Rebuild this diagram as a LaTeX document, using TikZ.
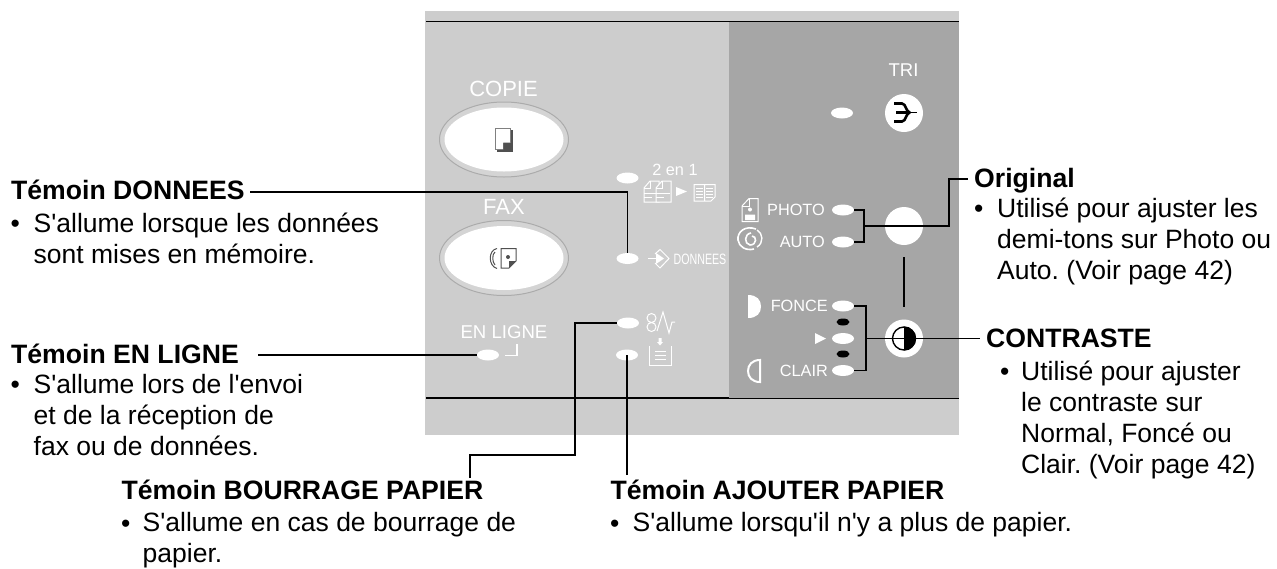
\documentclass[tikz,border=0pt]{standalone}
\usepackage{fontspec}
\setmainfont{Liberation Sans}
\newfontfamily\bodyfamily{Liberation Sans}
\frenchspacing
\usetikzlibrary{shapes.geometric,positioning,calc}
\definecolor{panellight}{HTML}{CDCDCD}
\definecolor{paneldark}{HTML}{A6A6A6}
\definecolor{rimgray}{HTML}{ABABAB}
\definecolor{icongray}{HTML}{505050}

\begin{document}
\begin{tikzpicture}[
  x=1pt, y=-1pt,
  led/.style={ellipse, fill=white, inner sep=0pt, minimum width=22pt, minimum height=11pt},
  ledblack/.style={ellipse, fill=black, inner sep=0pt, minimum width=13pt, minimum height=7pt},
  rimbtn/.style={ellipse, draw=rimgray, line width=1pt, fill=panellight!85!white, inner sep=0pt,
                 minimum width=129pt, minimum height=75pt},
  facebtn/.style={ellipse, fill=white, inner sep=0pt, minimum width=119pt, minimum height=64pt},
  roundbtn/.style={circle, fill=white, inner sep=0pt, minimum size=38pt},
  panellabel/.style={text=white, inner sep=0pt, font=\fontsize{16.3}{18}\selectfont},
  title/.style={anchor=base west, inner sep=0pt, font=\fontsize{26.6}{30}\selectfont\bfseries},
  body/.style={anchor=base west, inner sep=0pt, align=left, font=\bodyfamily\fontsize{26.5}{31}\selectfont},
  link/.style={line width=1.7pt, line cap=butt},
  icon/.style={draw=white, line width=1pt},
]
\useasboundingbox (0,0) rectangle (1277,568);

%% ── Panel ────────────────────────────────────────────────────────────────────
\fill[panellight] (425,11) rectangle (959,435);
\fill[paneldark] (729,22) rectangle (959,398);
\draw[line width=1.7pt] (426,21.5) -- (729,21.5);
\draw[line width=1pt] (729,21) -- (959,21);
\draw[line width=1.7pt] (426,398) -- (729,398);
\draw[line width=0.7pt] (729,398) -- (959,398);

%% ── Left buttons ─────────────────────────────────────────────────────────────
\node[rimbtn] (rimCopie) at (504,139.5) {};
\node[facebtn] (btnCopie) at (504,139.5) {};
\node[rimbtn] (rimFax) at (504,258) {};
\node[facebtn] (btnFax) at (504,258) {};
\node[text=white, inner sep=0pt, font=\fontsize{22}{24}\selectfont] (lblCopie) at (503.5,89) {COPIE};
\node[text=white, inner sep=0pt, font=\fontsize{22}{24}\selectfont] (lblFax) at (504,207) {FAX};
\node[text=white, inner sep=0pt, font=\fontsize{18.6}{20}\selectfont] (lblLigne) at (504,332) {EN LIGNE};

% copy sheet
\fill[icongray] (497,130) rectangle (513,152);
\fill[white] (496,129) -- (510.5,129) -- (510.5,142.5) -- (503,142.5) -- (503,149.5) -- (496,149.5) -- cycle;
\draw[gray, line width=1.3pt] (503,149.5) -- (495.5,149.5) -- (495.5,128.5) -- (510.5,128.5) -- (510.5,142.5);

% fax sheet and handset
\draw[icongray, line width=1pt] (501,248.5) -- (516,248.5) -- (516,261) -- (509,268) -- (501,268) -- cycle;
\fill[icongray] (508,257) circle (2);
\fill[icongray] (509,268) -- (509,261) -- (516,261) -- cycle;
\draw[icongray, line width=1pt] (497,248.5) .. controls (488,250) and (488,266) .. (497,268.5);
\draw[icongray, line width=1pt] (495,252) .. controls (492,254) and (492,262) .. (495,265);

%% ── Centre indicators ────────────────────────────────────────────────────────
\node[led] (ledDeux) at (627.5,178) {};
\node[led] (ledDonnees) at (627.5,258.5) {};
\node[led] (ledBourrage) at (628,323) {};
\node[led] (ledPapier) at (627,355) {};
\node[led] (ledLigne) at (488,355) {};
\node[panellabel] (lblDeux) at (675,170) {2 en 1};
\node[text=white, inner sep=0pt, font=\fontsize{15}{16}\selectfont] (lblDonnees) at (700,259) {\scalebox{0.71}[1]{DONNEES}};

% two sheets, then one booklet
\foreach \dx in {0,12} {
  \draw[icon, fill=panellight] (650+\dx,181) -- (659+\dx,181) -- (659+\dx,202) -- (644+\dx,202) -- (644+\dx,188) -- cycle;
  \draw[icon] (650+\dx,181) -- (650+\dx,188) -- (644+\dx,188);
  \draw[icon] (644+\dx,193) -- (658+\dx,193) (644+\dx,197) -- (652+\dx,197);
}
\fill[white] (676,187) -- (687,191.5) -- (676,196) -- cycle;
\draw[icon] (694,184.5) -- (715,184.5) -- (715,197) -- (711,201) -- (694,201) -- cycle (704.5,184.5) -- (704.5,201);
\foreach \yy in {188,191,194,197} {
  \draw[white, line width=0.8pt] (696,\yy) -- (703,\yy) (706,\yy) -- (713,\yy);
}

% incoming data
\draw[white, line width=1.8pt] (648,258.5) -- (658,258.5);
\fill[white] (656,253) -- (664,258.5) -- (656,264) -- cycle;
\draw[icon] (655,254) -- (660,249.5) -- (669,258.5) -- (660,268) -- (655,263);

% paper jam
\draw[icon] (651.5,318) circle (4.5) (651.5,327) circle (4.5);
\draw[icon] (657,331) -- (663,312) -- (669,333) -- (672,322) -- (675,322);

% paper tray
\draw[icon] (649.5,346) -- (649.5,365.5) -- (671,365.5) -- (671,346);
\foreach \yy in {351,355,359} {
  \draw[white, line width=0.9pt] (655,\yy) -- (666,\yy);
}
\fill[white] (658.5,338) rectangle (661.5,342) (657,342) -- (663,342) -- (660,345.5) -- cycle;

% line corner
\draw[white, line width=1.6pt] (505,355.5) -- (517,355.5) -- (517,344);

%% ── Right indicators ─────────────────────────────────────────────────────────
\node[panellabel, font=\fontsize{18.5}{20}\selectfont] (lblTri) at (903.5,70) {TRI};
\node[led] (ledTri) at (842,113) {};
\node[roundbtn] (btnTri) at (904,113) {};
\draw[line width=2.6pt] (894,103.5) -- (902,103.5) .. controls (906,103.5) and (906,112.5) .. (910,112.5);
\draw[line width=2.6pt] (896,112.5) -- (910,112.5);
\draw[line width=2.6pt] (894,121.5) -- (902,121.5) .. controls (906,121.5) and (906,112.5) .. (910,112.5);
\draw[line width=1.4pt] (909,112.5) -- (917,112.5);

\node[led] (ledPhoto) at (843,210) {};
\node[led] (ledAuto) at (843,242) {};
\node[led] (ledFonce) at (843,306) {};
\node[ledblack] (dotHaut) at (843,322) {};
\node[led] (ledNormal) at (843,338.5) {};
\node[ledblack] (dotBas) at (843,354) {};
\node[led] (ledClair) at (843,370.5) {};
\node[roundbtn] (btnOriginal) at (904,226) {};
\node[roundbtn] (btnContraste) at (904,338.5) {};

\node[panellabel, anchor=east] (lblPhoto) at (825,210) {PHOTO};
\node[panellabel, anchor=east] (lblAuto) at (825,242) {AUTO};
\node[panellabel, anchor=east] (lblFonce) at (828,306) {FONCE};
\node[panellabel, anchor=east] (lblClair) at (828,371) {CLAIR};

% photo sheet
\draw[icon] (749,198.5) -- (758,198.5) -- (758,221.5) -- (742,221.5) -- (742,206) -- cycle;
\draw[icon] (749,198.5) -- (749,206) -- (742,206);
\fill[white] (750,209.5) circle (2) (745,220) -- (745,214.5) -- (755,214.5) -- (755,220) -- cycle;

% auto swirl
\draw[white, line width=1.6pt] (756,229) .. controls (745,225) and (737,232) .. (738,240) .. controls (739,247) and (746,251) .. (754,249);
\draw[white, line width=1.4pt] (757,230) .. controls (763,233) and (764,243) .. (757,247);
\draw[white, line width=1.6pt] (751,233) .. controls (744,234) and (744,244) .. (750,245) .. controls (757,245) and (757,236) .. (752,236);

% dark and light half discs
\fill[white] (748,295) .. controls (757,295) and (761,300) .. (761,306.5) .. controls (761,313) and (757,318) .. (748,318) -- cycle;
\draw[white, line width=2pt] (760,360) .. controls (752,360) and (748,365) .. (748,371) .. controls (748,377) and (752,382) .. (760,382) -- cycle;
\fill[white] (815,333) -- (826,338.5) -- (815,344) -- cycle;

% contrast dial
\fill (904,326.5) arc (-90:90:12) -- cycle;
\draw[line width=1.4pt] (904,338.5) circle (11.5);

%% ── Labels ───────────────────────────────────────────────────────────────────
\node[title] (ttlDonnees) at (11,199) {Témoin DONNEES};
\node[body] (bulDonnees) at (10.5,232) {•};
\node[body, anchor=north west] (txtDonnees) at (33.5,212.5) {S'allume lorsque les données\\sont mises en mémoire.};

\node[title] (ttlLigne) at (11,363) {Témoin EN LIGNE};
\node[body] (bulLigne) at (10.5,393.5) {•};
\node[body, anchor=north west] (txtLigne) at (33.5,374) {S'allume lors de l'envoi\\et de la réception de\\fax ou de données.};

\node[title] (ttlBourrage) at (121.5,499) {Témoin BOURRAGE PAPIER};
\node[body] (bulBourrage) at (121,532) {•};
\node[body, anchor=north west] (txtBourrage) at (142.5,512.5) {S'allume en cas de bourrage de\\papier.};

\node[title] (ttlPapier) at (610.5,499) {Témoin AJOUTER PAPIER};
\node[body] (bulPapier) at (610,532) {•};
\node[body, anchor=north west] (txtPapier) at (632.5,512.5) {S'allume lorsqu'il n'y a plus de papier.};

\node[title] (ttlOriginal) at (974,187) {Original};
\node[body] (bulOriginal) at (974,217) {•};
\node[body, anchor=north west] (txtOriginal) at (997,197.5) {Utilisé pour ajuster les\\demi-tons sur Photo ou\\Auto. (Voir page 42)};

\node[title] (ttlContraste) at (986,347) {CONTRASTE};
\node[body] (bulContraste) at (1000,380) {•};
\node[body, anchor=north west] (txtContraste) at (1021,360.5) {Utilisé pour ajuster\\le contraste sur\\Normal, Foncé ou\\Clair. (Voir page 42)};

%% ── Connectors ───────────────────────────────────────────────────────────────
\coordinate (fromDonnees) at (250,192);
\coordinate (fromLigne) at (258,355);
\coordinate (fromBourrage) at (470,478);
\coordinate (jogBourrage) at (575,455);
\coordinate (fromPapier) at (627,475);
\coordinate (toOriginal) at (968,179);
\coordinate (toContraste) at (980,338.5);
\coordinate (busPhoto) at (864,226);
\coordinate (jogOriginal) at (949,226);
\coordinate (busFonce) at (866,338.5);

\draw[link] (fromDonnees) -| (ledDonnees.north);
\draw[link] (fromLigne) -- (ledLigne.west);
\draw[link] (fromBourrage) |- (jogBourrage) |- (ledBourrage.west);
\draw[link] (fromPapier) -- (ledPapier.center);

% photo / auto bracket
\draw[link] (ledPhoto.east) -| (busPhoto) |- (ledAuto.east);
\draw[link] (busPhoto) -- (jogOriginal) |- (toOriginal);

% contrast bracket
\draw[link] (ledFonce.east) -| (busFonce) |- (ledClair.east);
\draw[link] (busFonce) -- (toContraste);

% link between dials
\draw[line width=1.8pt, shorten <=12pt, shorten >=12.5pt] (btnOriginal.south) -- (btnContraste.north);

\end{tikzpicture}
\end{document}
